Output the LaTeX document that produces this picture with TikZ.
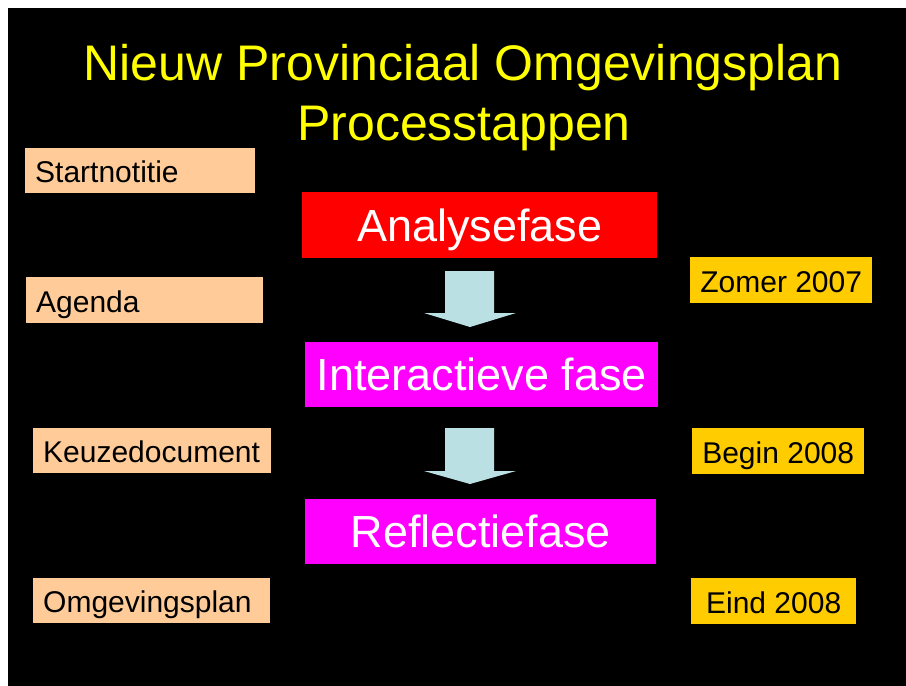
\documentclass[tikz,border=0pt]{standalone}
\usepackage{fontspec}
\setmainfont{Liberation Sans}
\usetikzlibrary{positioning}

\definecolor{peach}{RGB}{255,204,153}
\definecolor{gold}{RGB}{255,204,0}
\definecolor{phasered}{RGB}{255,0,0}
\definecolor{phasepink}{RGB}{255,0,255}
\definecolor{titleyellow}{RGB}{255,255,0}
\definecolor{arrowblue}{RGB}{187,224,227}

\begin{document}
\begin{tikzpicture} [x = 1pt, y = -1pt,
  titletext/.style = {text = titleyellow, font = \fontsize{50}{60}\selectfont, inner sep = 0pt, anchor = base},
  phasebox/.style = {text = white, font = \fontsize{45}{54}\selectfont, text height = 32pt, text depth = 0pt, inner sep = 0pt, anchor = north west},
  docbox/.style = {fill = peach, text = black, font = \fontsize{30}{36}\selectfont, text height = 24pt, text depth = 0pt, inner xsep = 10pt, inner ysep = 0pt, align = left, anchor = north west},
  datebox/.style = {fill = gold, text = black, font = \fontsize{30}{36}\selectfont, text height = 24pt, text depth = 0pt, inner sep = 0pt, anchor = north west}]
\useasboundingbox (0, 0) rectangle (906, 686);
\fill[white] (0, 0) rectangle (906, 686);
\fill[black] (8, 8) rectangle (906, 686);
\node[titletext] (title1) at (463, 80){Nieuw Provinciaal Omgevingsplan};
\node[titletext] (title2) at (464, 140){Processtappen};
\node[phasebox, fill = phasered, minimum width = 355pt, minimum height = 66pt] (analyse) at (302, 192){Analysefase};
\node[phasebox, fill = phasepink, minimum width = 353pt, minimum height = 65pt] (interactief) at (305, 342){Interactieve fase};
\node[phasebox, fill = phasepink, minimum width = 351pt, minimum height = 65pt] (reflectie) at (305, 499){Reflectiefase};
\fill[arrowblue] (445, 271) -- (494, 271) -- (494, 313) -- (516, 313) -- (470, 327) -- (424, 313) -- (445, 313) -- cycle;
\fill[arrowblue] (445, 428) -- (494, 428) -- (494, 471) -- (516, 471) -- (470, 484) -- (424, 471) -- (445, 471) -- cycle;
\node[docbox, text width = 210pt, minimum height = 45pt] (startnotitie) at (25, 148){Startnotitie};
\node[docbox, text width = 217pt, minimum height = 46pt] (agenda) at (26, 277){Agenda};
\node[docbox, text width = 218pt, minimum height = 45pt] (keuzedoc) at (33, 428){Keuzedocument};
\node[docbox, text width = 217pt, minimum height = 45pt] (omgevingsplan) at (33, 578){Omgevingsplan};
\node[datebox, minimum width = 182pt, minimum height = 46pt] (zomer) at (690, 257){Zomer 2007};
\node[datebox, minimum width = 172pt, minimum height = 46pt] (begin) at (692, 428){Begin 2008};
\node[datebox, minimum width = 165pt, minimum height = 46pt] (eind) at (691, 578){Eind 2008};
\end{tikzpicture}
\end{document}
